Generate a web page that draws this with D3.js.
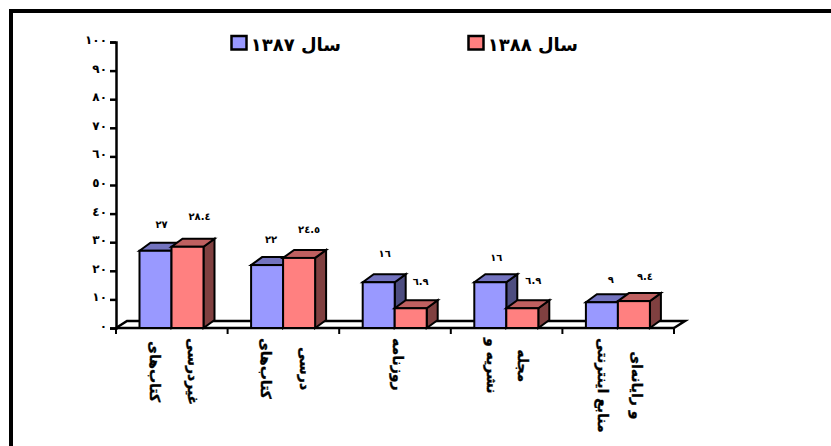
<!DOCTYPE html>
<html>
<head>
<meta charset="utf-8">
<script src="https://cdn.jsdelivr.net/npm/d3@7"></script>
<style>
html, body { margin: 0; padding: 0; background: #fff; overflow: hidden; }
text { font-family: "DejaVu Sans", sans-serif; font-weight: bold; fill: #000; }
</style>
</head>
<body>
<div id="chart"></div>
<script>
// Chart data
const categories = [
    ["کتاب‌های", "غیردرسی"],
    ["کتاب‌های", "درسی"],
    ["روزنامه"],
    ["نشریه و", "مجله"],
    ["منابع اینترنتی", "و رایانه‌ای"]
];
const seriesNames = ["سال ١٣٨٧", "سال ١٣٨٨"];
const values1387 = [27, 22, 16, 16, 9];
const values1388 = [28.4, 24.5, 6.9, 6.9, 9.4];
const labels1387 = ["٢٧", "٢٢", "١٦", "١٦", "٩"];
const labels1388 = ["٢٨.٤", "٢٤.٥", "٦.٩", "٦.٩", "٩.٤"];
const tickValues = [0, 10, 20, 30, 40, 50, 60, 70, 80, 90, 100];
const tickLabels = ["٠", "١٠", "٢٠", "٣٠", "٤٠", "٥٠", "٦٠", "٧٠", "٨٠", "٩٠", "١٠٠"];

// Hand placed data labels, offset from the top centre of each bar
const labelOffsets1387 = [[6, -26], [4, -25], [6, -28], [6, -24], [9, -22]];
const labelOffsets1388 = [[12, -30], [10, -28], [10, -26], [11, -27], [11, -24]];
// Hand placed category label lines, offset from the middle of each bar pair
const lineOffsets = [[-18, 20], [-18, 21], [2], [-15, 16], [-16, 18]];

const colors = [
    { front: "#9999ff", top: "#7373bf", side: "#4d4d80" },
    { front: "#ff8080", top: "#bf6060", side: "#804040" }
];

const svg = d3.select("#chart").append("svg")
    .attr("width", 831)
    .attr("height", 446)
    .style("display", "block");

// Frame: only the top and left edges are visible in the crop
svg.append("path")
    .attr("d", "M11,446V11H831")
    .attr("fill", "none")
    .attr("stroke", "#000")
    .attr("stroke-width", 4);

// Scales
const x = d3.scaleBand().domain(d3.range(categories.length)).range([116, 674]);
const xInner = d3.scaleBand().domain([0, 1]).range([23.5, 87.5]);
const y = d3.scaleLinear().domain([0, 100]).range([328, 42]);
const depthX = 11;
const depthY = 8;
const floorDepthY = 7;

// Floor of the 3D plot
svg.append("path")
    .attr("d", `M${x.range()[0]},${y(0)}l${depthX},${-floorDepthY}H${x.range()[1] + depthX}l${-depthX},${floorDepthY}`)
    .attr("fill", "#fff")
    .attr("stroke", "#000")
    .attr("stroke-width", 2.5);

// Y axis
const yAxis = svg.append("g")
    .attr("transform", "translate(116,0)")
    .call(d3.axisLeft(y).tickValues(tickValues).tickSize(6).tickPadding(3)
        .tickFormat((d, i) => tickLabels[i]));
yAxis.selectAll("line").attr("stroke", "#000").attr("stroke-width", 2.5);
yAxis.select(".domain").attr("stroke", "#000").attr("stroke-width", 2.5);
yAxis.selectAll("text")
    .attr("dy", "0.12em")
    .style("font-size", "12px")
    .style("font-family", "DejaVu Sans");

// X axis line and ticks between categories
svg.append("line")
    .attr("x1", x.range()[0]).attr("x2", x.range()[1])
    .attr("y1", y(0)).attr("y2", y(0))
    .attr("stroke", "#000").attr("stroke-width", 2.5);
const xTicks = d3.range(categories.length + 1).map(i => x.range()[0] + i * x.step());
svg.selectAll(".xtick").data(xTicks).enter().append("line")
    .attr("x1", d => d).attr("x2", d => d)
    .attr("y1", y(0)).attr("y2", y(0) + 6)
    .attr("stroke", "#000").attr("stroke-width", 2);

// 3D bars
function drawBar(catIndex, seriesIndex, value) {
    const c = colors[seriesIndex];
    const x0 = x(catIndex) + xInner(seriesIndex);
    const w = xInner.bandwidth();
    const yTop = y(value);
    const yBase = y(0);
    const g = svg.append("g").attr("stroke", "#000").attr("stroke-width", 2).attr("stroke-linejoin", "miter");
    g.append("path").attr("fill", c.side)
        .attr("d", `M${x0 + w},${yTop}l${depthX},${-depthY}V${yBase - depthY}l${-depthX},${depthY}Z`);
    g.append("path").attr("fill", c.top)
        .attr("d", `M${x0},${yTop}l${depthX},${-depthY}h${w}l${-depthX},${depthY}Z`);
    g.append("rect").attr("fill", c.front)
        .attr("x", x0).attr("y", yTop).attr("width", w).attr("height", yBase - yTop);
}

categories.forEach((cat, i) => {
    drawBar(i, 0, values1387[i]);
    drawBar(i, 1, values1388[i]);
});

// Data labels
function drawLabels(values, labels, offsets, seriesIndex) {
    svg.selectAll(".lbl" + seriesIndex).data(values).enter().append("text")
        .attr("x", (d, i) => x(i) + xInner(seriesIndex) + xInner.bandwidth() / 2 + offsets[i][0])
        .attr("y", (d, i) => y(d) + offsets[i][1])
        .attr("text-anchor", "middle")
        .attr("dominant-baseline", "middle")
        .style("font-size", "10px")
        .text((d, i) => labels[i]);
}
drawLabels(values1387, labels1387, labelOffsets1387, 0);
drawLabels(values1388, labels1388, labelOffsets1388, 1);

// Category labels, rotated to read top to bottom
categories.forEach((lines, i) => {
    const cx = x(i) + xInner(0) + xInner.bandwidth();
    const texts = lines.map((line, j) => svg.append("text")
        .attr("text-anchor", "middle")
        .attr("direction", "rtl")
        .attr("dominant-baseline", "middle")
        .attr("stroke", "#000")
        .attr("stroke-width", 0.4)
        .style("font-size", "14px")
        .attr("data-x", cx + lineOffsets[i][j])
        .text(line));
    // The longest line starts just under the axis, the other one is centred on it
    const longest = d3.max(texts, t => t.node().getComputedTextLength());
    const cy = 338 + longest / 2;
    texts.forEach(t => t.attr("transform", `translate(${t.attr("data-x")},${cy}) rotate(90)`));
});

// Legend
const legendX = [231.5, 468.5];
seriesNames.forEach((name, i) => {
    svg.append("rect")
        .attr("x", legendX[i]).attr("y", 36)
        .attr("width", 15).attr("height", 13.5)
        .attr("fill", colors[i].front)
        .attr("stroke", "#000").attr("stroke-width", 2.5);
    svg.append("text")
        .attr("x", legendX[i] + 109.5)
        .attr("y", 51)
        .attr("direction", "rtl")
        .attr("text-anchor", "start")
        .style("font-size", "18px")
        .text(name);
});
</script>
</body>
</html>
